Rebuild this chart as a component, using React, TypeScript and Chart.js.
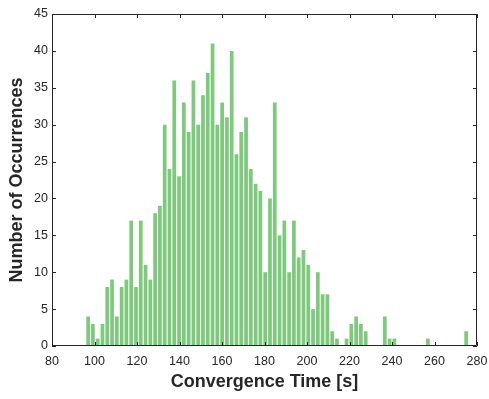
import React, { useEffect, useRef } from "react";
import { Chart, registerables } from "chart.js";

Chart.register(...registerables);

// Histogram of convergence times (bin centres start at 97 s, bin width ≈ 2.252 s)
const binStart = 97.0;
const binWidth = 2.252;
const counts: number[] = [
  4, 3, 1, 3, 8, 9, 4, 8, 9, 17,
  8, 17, 11, 9, 18, 19, 30, 24, 36, 23,
  33, 29, 36, 30, 34, 37, 41, 30, 33, 31,
  40, 26, 29, 31, 24, 22, 21, 10, 20, 33,
  15, 17, 10, 17, 12, 13, 11, 5, 10, 7,
  7, 2, 1, 0, 1, 3, 4, 3, 2, 0,
  0, 0, 4, 1, 1, 0, 0, 0, 0, 0,
  0, 1, 0, 0, 0, 0, 0, 0, 0, 2,
];
const xTicks: number[] = [80, 100, 120, 140, 160, 180, 200, 220, 240, 260, 280];
const yTicks: number[] = [0, 5, 10, 15, 20, 25, 30, 35, 40, 45];
const xTitle = "Convergence Time [s]";
const yTitle = "Number of Occurrences";

const AXIS = "#262626";
const FAMILY = "'Liberation Sans', Arial, Helvetica, sans-serif";

const framePlugin = {
  id: "frame",
  afterDatasetsDraw(chart: any) {
    const { ctx, chartArea, scales } = chart;
    const { left, right, top, bottom } = chartArea;
    const tl = 4;
    ctx.save();
    ctx.strokeStyle = AXIS;
    ctx.lineWidth = 1;
    ctx.beginPath();
    ctx.rect(left + 0.5, top + 0.5, right - left - 1, bottom - top - 1);
    for (const v of xTicks) {
      const px = Math.round(scales.x.getPixelForValue(v)) + 0.5;
      ctx.moveTo(px, bottom);
      ctx.lineTo(px, bottom - tl);
      ctx.moveTo(px, top);
      ctx.lineTo(px, top + tl);
    }
    for (const v of yTicks) {
      const py = Math.round(scales.y.getPixelForValue(v)) + 0.5;
      ctx.moveTo(left, py);
      ctx.lineTo(left + tl, py);
      ctx.moveTo(right, py);
      ctx.lineTo(right - tl, py);
    }
    ctx.stroke();
    ctx.restore();
  },
};

export default function App() {
  const ref = useRef<HTMLCanvasElement | null>(null);

  useEffect(() => {
    if (!ref.current) return;
    const data = counts.map((c, i) => ({ x: binStart + i * binWidth, y: c }));
    const chart = new Chart(ref.current, {
      type: "bar",
      data: {
        datasets: [
          {
            data,
            backgroundColor: "#7fc97f",
            borderWidth: 0,
            barPercentage: 0.78,
            categoryPercentage: 1,
          },
        ],
      },
      options: {
        animation: false,
        responsive: false,
        maintainAspectRatio: false,
        layout: { padding: { top: 14, right: 12, left: 0, bottom: 0 } },
        plugins: { legend: { display: false }, tooltip: { enabled: false } },
        scales: {
          x: {
            type: "linear",
            min: 80,
            max: 280,
            offset: false,
            afterBuildTicks: (s: any) => {
              s.ticks = xTicks.map((v) => ({ value: v }));
            },
            afterFit: (s: any) => {
              s.height = 53;
              s.paddingLeft = 0;
              s.paddingRight = 0;
            },
            grid: { display: false, drawTicks: false },
            border: { display: false },
            ticks: {
              color: AXIS,
              padding: 8,
              maxRotation: 0,
              font: { family: FAMILY, size: 12.5 },
            },
            title: {
              display: true,
              text: xTitle,
              color: AXIS,
              padding: { top: 0, bottom: 6 },
              font: { family: FAMILY, size: 18, weight: "bold" },
            },
          },
          y: {
            type: "linear",
            min: 0,
            max: 45,
            afterBuildTicks: (s: any) => {
              s.ticks = yTicks.map((v) => ({ value: v }));
            },
            afterFit: (s: any) => {
              s.width = 52;
              s.paddingTop = 0;
              s.paddingBottom = 0;
            },
            grid: { display: false, drawTicks: false },
            border: { display: false },
            ticks: {
              color: AXIS,
              padding: 4,
              font: { family: FAMILY, size: 12.5 },
            },
            title: {
              display: true,
              text: yTitle,
              color: AXIS,
              padding: { top: 6, bottom: 0 },
              font: { family: FAMILY, size: 18, weight: "bold" },
            },
          },
        },
      },
      plugins: [framePlugin],
    });
    return () => chart.destroy();
  }, []);

  return (
    <div style={{ position: "fixed", left: 0, top: 0, width: 489, height: 399, background: "#fff" }}>
      <canvas ref={ref} width={489} height={399} style={{ width: 489, height: 399, display: "block" }} />
    </div>
  );
}
